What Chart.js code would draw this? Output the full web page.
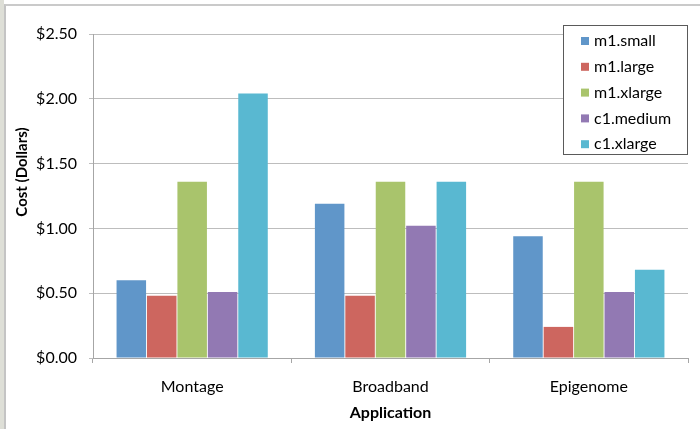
<!DOCTYPE html>
<html>
<head>
<meta charset="utf-8">
<script src="https://cdn.jsdelivr.net/npm/chart.js@4"></script>
<style>
  html, body { margin: 0; padding: 0; background: #fff; }
  #frame { position: relative; width: 700px; height: 429px; overflow: hidden; }
  #strip { position: absolute; left: 0; top: 0; width: 4px; height: 429px; background: #dedfd7; }
  #box { position: absolute; left: 4px; top: 4px; width: 696px; height: 425px;
         border-top: 2px solid #cacaca; border-left: 2px solid #c4c4c4; box-sizing: border-box; }
  #wrap { width: 694px; height: 423px; }
</style>
</head>
<body>
<div id="frame">
  <div id="strip"></div>
  <div id="box"><div id="wrap"><canvas id="costChart"></canvas></div></div>
</div>
<script>
// Data
const applications = ['Montage', 'Broadband', 'Epigenome'];
const instanceTypes = ['m1.small', 'm1.large', 'm1.xlarge', 'c1.medium', 'c1.xlarge'];
const m1Small = [0.60, 1.19, 0.94];
const m1Large = [0.48, 0.48, 0.24];
const m1Xlarge = [1.36, 1.36, 1.36];
const c1Medium = [0.51, 1.02, 0.51];
const c1Xlarge = [2.04, 1.36, 0.68];
const yTicks = [0, 0.5, 1.0, 1.5, 2.0, 2.5];
const yTitle = 'Cost (Dollars)';

const colors = ['#6096c9', '#cd665f', '#a9c46c', '#9279b3', '#59b8d1'];
const seriesValues = [m1Small, m1Large, m1Xlarge, c1Medium, c1Xlarge];

const FONT = 'Lato, "Open Sans", sans-serif';

// legend box inside the plot area + y title sitting a bit above centre, like the original
const boxLegend = {
    id: 'boxLegend',
    afterDraw(chart) {
        const c = chart.ctx;
        const area = chart.chartArea;
        const x = area.right - 125, y = 19, w = 125, h = 130;
        c.save();
        c.fillStyle = '#fff';
        c.fillRect(x, y, w, h);
        c.strokeStyle = '#5a5a5a';
        c.lineWidth = 1;
        c.strokeRect(x + 0.5, y + 0.5, w - 1, h - 1);
        c.font = '16px ' + FONT;
        c.textBaseline = 'middle';
        chart.data.datasets.forEach((ds, i) => {
            const rowY = y + 16 + i * 25.8;
            c.fillStyle = ds.backgroundColor;
            c.fillRect(x + 18, rowY - 4, 8, 8);
            c.fillStyle = '#000';
            c.fillText(ds.label, x + 31, rowY);
        });

        // y axis title
        c.translate(16.5, 166);
        c.rotate(-Math.PI / 2);
        c.font = 'bold 15px ' + FONT;
        c.textAlign = 'center';
        c.fillStyle = '#000';
        c.fillText(yTitle, 0, 0);
        c.restore();
    }
};

const ctx = document.getElementById('costChart').getContext('2d');
const chart = new Chart(ctx, {
    type: 'bar',
    data: {
        labels: applications,
        datasets: instanceTypes.map((name, i) => ({
            label: name,
            data: seriesValues[i],
            backgroundColor: colors[i],
            borderWidth: 0,
            barPercentage: 0.97,
            categoryPercentage: 0.767,
        })),
    },
    options: {
        responsive: true,
        maintainAspectRatio: false,
        animation: false,
        layout: { padding: { top: 28, right: 12, left: 0, bottom: 0 } },
        plugins: {
            legend: { display: false },
            tooltip: { enabled: false },
        },
        scales: {
            x: {
                grid: { drawOnChartArea: false, drawTicks: true, tickLength: 5, color: '#a6a6a6' },
                border: { color: '#a6a6a6' },
                ticks: { color: '#000', font: { family: FONT, size: 16 }, padding: 14 },
                title: {
                    display: true, text: 'Application', color: '#000',
                    font: { family: FONT, size: 16, weight: 'bold' },
                    padding: { top: 0, bottom: 7 },
                },
                afterFit: s => { s.height = 71; },
            },
            y: {
                min: 0,
                max: 2.5,
                afterBuildTicks: s => { s.ticks = yTicks.map(v => ({ value: v })); },
                grid: { color: '#bdbdbd', tickLength: 4 },
                border: { color: '#a6a6a6' },
                ticks: {
                    color: '#000', font: { family: FONT, size: 16 }, padding: 12,
                    callback: v => '$' + Number(v).toFixed(2),
                },
                afterFit: s => { s.width = 87; },
            },
        },
    },
    plugins: [boxLegend],
});
</script>
</body>
</html>
